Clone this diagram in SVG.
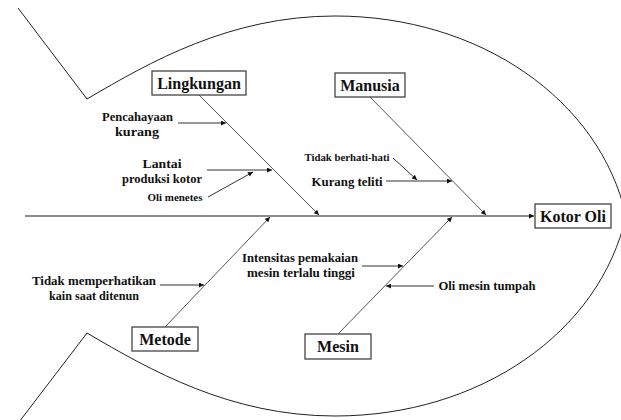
<svg xmlns="http://www.w3.org/2000/svg" width="621" height="420" viewBox="0 0 621 420">
<defs>
<marker id="ah" viewBox="0 0 10 10" refX="10" refY="5" markerWidth="6" markerHeight="5" markerUnits="userSpaceOnUse" orient="auto">
<path d="M0,0 L10,5 L0,10 z" fill="#111"/>
</marker>
<style>
.fish{fill:none;stroke:#222;stroke-width:1}
.spine{fill:none;stroke:#666;stroke-width:1.6}
.bone{fill:none;stroke:#555;stroke-width:1}
.sub{fill:none;stroke:#333;stroke-width:1}
.box{fill:#fff;stroke:#444;stroke-width:1.3}
.lbl{font-family:"Liberation Serif","Times New Roman",serif;font-weight:bold;font-size:16px;fill:#111;text-anchor:middle}
.t{font-family:"Liberation Serif","Times New Roman",serif;font-weight:bold;fill:#111;text-anchor:middle}
</style>
</defs>
<rect width="621" height="420" fill="#fff"/>
<g id="outline">
<path class="fish" d="M18,8 L87,99 C150,62 230,16 335,16 C480,16 600,100 626,216 C600,332 480,416 335,416 C230,416 150,370 87,333 L16,426"/>
</g>
<g id="connectors">
<line class="spine" x1="25" y1="216" x2="534" y2="216" marker-end="url(#ah)"/>
<line class="bone" x1="199" y1="95" x2="319" y2="215" marker-end="url(#ah)"/>
<line class="bone" x1="370" y1="97" x2="486" y2="215" marker-end="url(#ah)"/>
<line class="bone" x1="165" y1="327" x2="270" y2="217" marker-end="url(#ah)"/>
<line class="bone" x1="338" y1="334" x2="452" y2="217" marker-end="url(#ah)"/>
<line class="sub" x1="178" y1="123" x2="226" y2="123" marker-end="url(#ah)"/>
<line class="sub" x1="207" y1="170" x2="272" y2="170" marker-end="url(#ah)"/>
<line class="sub" x1="208" y1="197" x2="253" y2="172" marker-end="url(#ah)"/>
<line class="sub" x1="393" y1="158" x2="417" y2="180" marker-end="url(#ah)"/>
<line class="sub" x1="386" y1="181" x2="452" y2="181" marker-end="url(#ah)"/>
<line class="sub" x1="160" y1="285" x2="204" y2="285" marker-end="url(#ah)"/>
<line class="sub" x1="362" y1="266" x2="403" y2="266" marker-end="url(#ah)"/>
<line class="sub" x1="434" y1="286" x2="386" y2="286" marker-end="url(#ah)"/>
</g>
<g id="kotor-oli">
<rect class="box" x="535" y="204" width="76" height="24"/>
<text class="lbl" x="573" y="222">Kotor Oli</text>
</g>
<g id="lingkungan">
<rect class="box" x="152" y="71" width="94" height="24"/>
<text class="lbl" x="199" y="89">Lingkungan</text>
</g>
<g id="manusia">
<rect class="box" x="335" y="73" width="70" height="24"/>
<text class="lbl" x="370" y="91">Manusia</text>
</g>
<g id="metode">
<rect class="box" x="132" y="327" width="66" height="24"/>
<text class="lbl" x="165" y="345">Metode</text>
</g>
<g id="mesin">
<rect class="box" x="305" y="334" width="66" height="25"/>
<text class="lbl" x="338" y="352">Mesin</text>
</g>
<g id="pencahayaan">
<text class="t" font-size="12" x="137.5" y="121" textLength="71" lengthAdjust="spacingAndGlyphs">Pencahayaan</text>
<text class="t" font-size="12" x="137" y="136" textLength="44" lengthAdjust="spacingAndGlyphs">kurang</text>
</g>
<g id="lantai">
<text class="t" font-size="12" x="162" y="168" textLength="39" lengthAdjust="spacingAndGlyphs">Lantai</text>
<text class="t" font-size="12" x="162" y="183" textLength="80" lengthAdjust="spacingAndGlyphs">produksi kotor</text>
</g>
<g id="oli-menetes">
<text class="t" font-size="9.5" x="175" y="201" textLength="55" lengthAdjust="spacingAndGlyphs">Oli menetes</text>
</g>
<g id="tidak-berhati-hati">
<text class="t" font-size="10" x="347" y="161" textLength="85" lengthAdjust="spacingAndGlyphs">Tidak berhati-hati</text>
</g>
<g id="kurang-teliti">
<text class="t" font-size="13" x="347" y="186" textLength="71" lengthAdjust="spacingAndGlyphs">Kurang teliti</text>
</g>
<g id="tidak-memperhatikan">
<text class="t" font-size="12" x="94" y="285" textLength="124" lengthAdjust="spacingAndGlyphs">Tidak memperhatikan</text>
<text class="t" font-size="12" x="94" y="300" textLength="90" lengthAdjust="spacingAndGlyphs">kain saat ditenun</text>
</g>
<g id="intensitas">
<text class="t" font-size="12" x="300" y="262" textLength="116" lengthAdjust="spacingAndGlyphs">Intensitas pemakaian</text>
<text class="t" font-size="12" x="301" y="277" textLength="108" lengthAdjust="spacingAndGlyphs">mesin terlalu tinggi</text>
</g>
<g id="oli-mesin-tumpah">
<text class="t" font-size="12" x="487" y="290" textLength="97" lengthAdjust="spacingAndGlyphs">Oli mesin tumpah</text>
</g>
</svg>
